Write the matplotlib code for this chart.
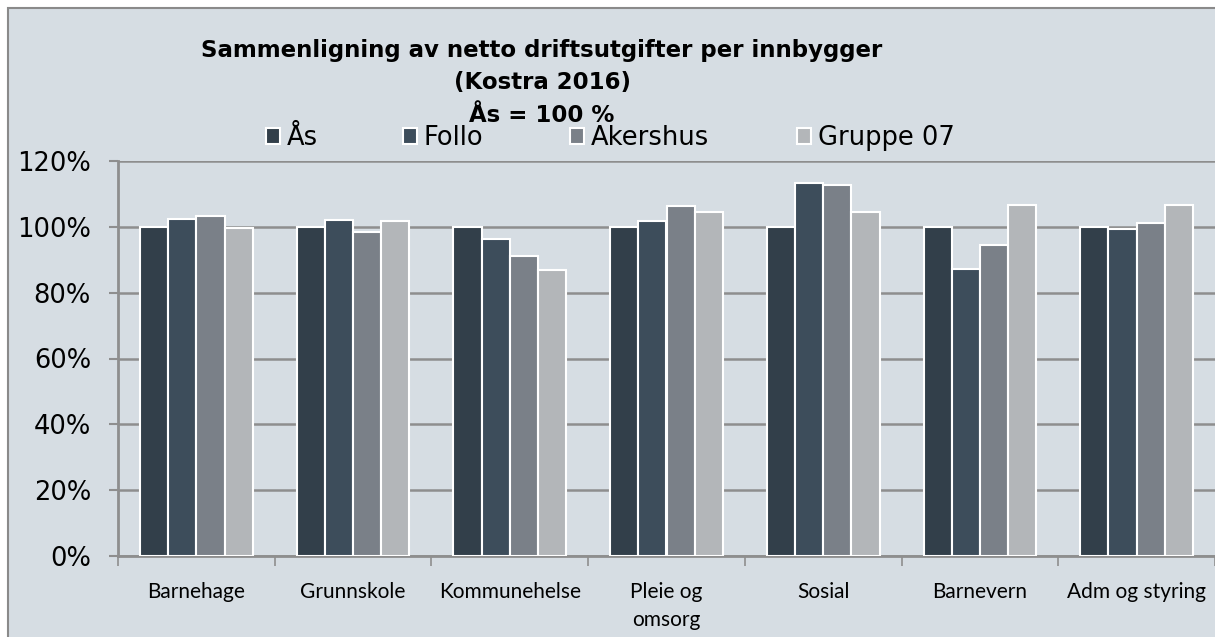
import matplotlib.pyplot as plt
import numpy as np
from matplotlib.patches import Rectangle
from matplotlib.ticker import FixedLocator, PercentFormatter

categories = ["Barnehage", "Grunnskole", "Kommunehelse", "Pleie og\nomsorg",
              "Sosial", "Barnevern", "Adm og styring"]
series_names = ["Ås", "Follo", "Akershus", "Gruppe 07"]
aas = [100, 100, 100, 100, 100, 100, 100]
follo = [102.5, 102.0, 96.2, 101.7, 113.4, 87.2, 99.2]
akershus = [103.3, 98.5, 91.1, 106.4, 112.7, 94.6, 101.2]
gruppe07 = [99.7, 101.8, 86.9, 104.4, 104.4, 106.5, 106.5]
title_lines = ["Sammenligning av netto driftsutgifter per innbygger", "(Kostra 2016)", "Ås = 100 %"]
colors = ["#323f4a", "#3d4d5b", "#7a8088", "#b3b6b9"]
bg = "#d6dde3"
W, H = 1215, 637

fig = plt.figure(figsize=(12.15, 6.37), dpi=100, facecolor="white")
# chart area background, border only on the left and top (cut off right/bottom)
fig.patches.append(Rectangle((8 / W, -0.05), 1.1, 1.05 - 8 / H, transform=fig.transFigure,
                             facecolor=bg, edgecolor="#8a8a8a", linewidth=1.5, zorder=-1))
ax = fig.add_axes([118 / W, 1 - 556 / H, 1 - 118 / W, (556 - 161) / H])
ax.set_facecolor(bg)

x = np.arange(len(categories))
w = 0.18
bars = []
for i, vals in enumerate([aas, follo, akershus, gruppe07]):
    b = ax.bar(x + (i - 1.5) * w, vals, w, color=colors[i], edgecolor="white",
               linewidth=1.5, label=series_names[i], zorder=3)
    bars.append(b)

ax.set_xlim(-0.5, len(categories) - 0.5)
ax.set_ylim(0, 120)
ax.set_yticks(np.arange(0, 121, 20))
ax.yaxis.set_major_formatter(PercentFormatter(decimals=0))
ax.yaxis.grid(True, color="#8e8e8e", linewidth=1.8, zorder=0)
ax.set_axisbelow(True)

ax.set_xticks(x)
ax.set_xticklabels(categories, fontsize=15, fontfamily="Lato", linespacing=1.5)
ax.xaxis.set_minor_locator(FixedLocator(np.arange(-0.5, len(categories), 1)))
ax.tick_params(axis="x", which="major", length=0, pad=19)
ax.tick_params(axis="x", which="minor", length=7, color="#8e8e8e", width=1.2)
ax.tick_params(axis="y", length=6.5, color="#8e8e8e", width=1.5, labelsize=18.5, pad=13)

for s in ["top", "right"]:
    ax.spines[s].set_visible(False)
ax.spines["left"].set_color("#8e8e8e")
ax.spines["left"].set_linewidth(2)
ax.spines["bottom"].set_color("#8e8e8e")
ax.spines["bottom"].set_linewidth(2)

# title, three lines
for line, ypx in zip(title_lines, [50, 83, 115]):
    fig.text(542 / W, 1 - ypx / H, line, ha="center", va="center",
             fontsize=16.5, fontweight="bold")

# legend entries placed one by one like the original
for b, name, xpx in zip(bars, series_names, [266, 403, 570, 797]):
    fig.legend([b], [name], loc="center left", bbox_to_anchor=(xpx / W, 1 - 138 / H),
               frameon=False, fontsize=18.5, handlelength=0.55, handleheight=0.55,
               handletextpad=0.25, borderpad=0, borderaxespad=0)

plt.savefig("out.png", dpi=100, facecolor="white")
